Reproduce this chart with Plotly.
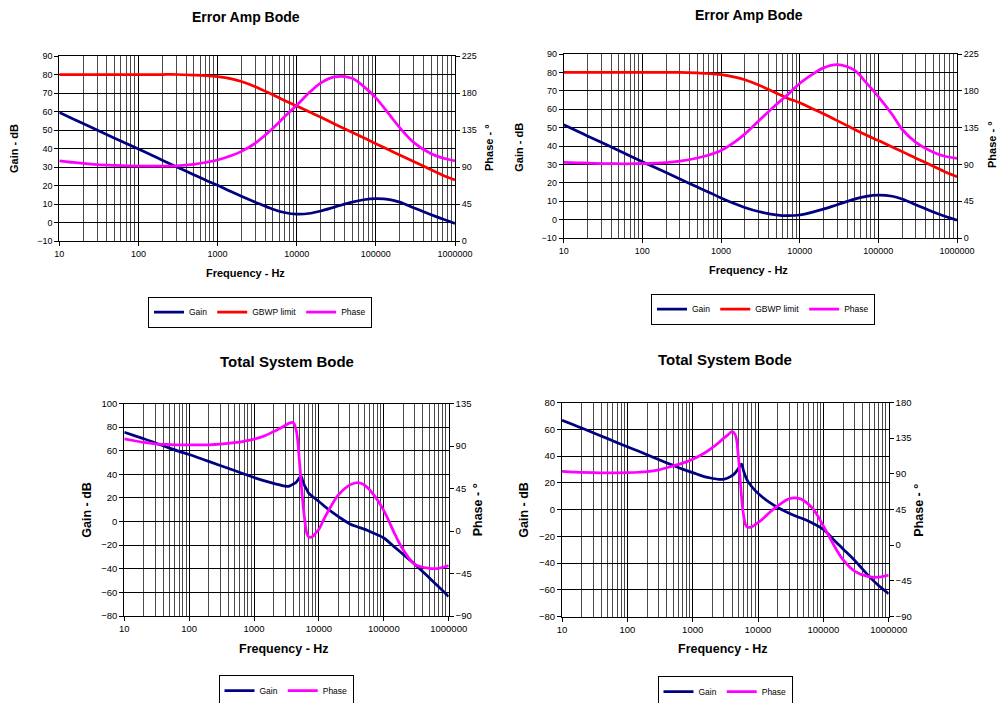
import plotly.graph_objects as go

W, H = 997, 703

# ---------------- DATA ----------------
# Error Amp Bode charts (top row)
freq_ea = [10, 15, 20, 30, 50, 70, 100, 150, 200, 300, 500, 700, 1000, 1500, 2000, 3000,
           5000, 7000, 10000, 15000, 20000, 30000, 50000, 70000, 100000, 150000, 200000,
           300000, 500000, 700000, 1000000]

ea1_gain = [59.5, 56, 53.5, 50, 45.6, 42.7, 39.7, 36.2, 33.7, 30.2, 25.8, 23, 20.1, 16.6, 14.2, 11,
            7.2, 5.4, 4.5, 5, 6.2, 8.3, 11, 12.3, 12.9, 12.4, 11,
            8, 4.2, 1.9, -0.5]
ea1_gbwp = [80, 80, 80, 80, 80, 80, 80, 80, 80, 80, 79.7, 79.4, 78.8, 77.6, 76.2, 73.4,
            69, 66, 63, 59.5, 57, 53.3, 48.8, 45.8, 42.6, 39, 36.5,
            33, 28.5, 25.6, 23]
ea1_phase = [97.5, 95.5, 94.3, 93, 92, 91.5, 91.2, 91, 91, 91.5, 93.3, 95.5, 98.5, 104, 109, 119,
             137, 151, 165, 182, 192, 199.5, 198, 188, 174, 153, 138,
             120, 106, 101, 97.5]

ea2_gain = [51.5, 48, 45.5, 42, 37.5, 34.6, 31.5, 28, 25.6, 22.1, 17.7, 14.9, 11.8, 8.6, 6.6, 4.4,
            2.6, 2.1, 2.5, 4.2, 5.7, 8.1, 11.1, 12.6, 13.3, 12.7, 11.2,
            8.1, 4.1, 1.8, -0.3]
ea2_gbwp = [80, 80, 80, 80, 80, 80, 80, 80, 80, 80, 79.7, 79.4, 78.8, 77.4, 76, 73.2,
            68.8, 66, 63.5, 60, 57.5, 53.8, 49, 46, 43, 39.4, 37,
            33.4, 29, 26, 23.3]
ea2_phase = [92.5, 92, 91.5, 91, 90.8, 90.8, 91, 91.5, 92.2, 94, 97.8, 101.5, 107, 117.5, 127, 143,
             163, 175, 189, 201, 208, 212, 205, 190, 173, 151, 133,
             117, 105, 100, 97.5]

# Total System Bode charts (bottom row)
freq_ts = [10, 15, 20, 30, 50, 70, 100, 150, 200, 300, 500, 700,
           1000, 1500, 2000, 2500, 3000, 3500, 4000, 4500,
           5000, 5300, 5600, 6000, 6500, 7000, 8000, 9000,
           10000, 12000, 15000, 20000, 30000, 40000, 50000, 70000,
           100000, 150000, 200000, 300000, 500000, 700000, 1000000]

ts1_gain = [75.7, 72.4, 70.1, 66.6, 62.2, 59.4, 56.8, 53.4, 51, 47.5, 43.2, 40.3,
            37.3, 34.2, 32.3, 31, 30, 30, 31.7, 33.6,
            37, 38.6, 34.5, 30.5, 27, 23.8, 21.2, 18.9,
            17, 13.3, 9, 4.2, -2, -4.6, -6.4, -9.9,
            -13.9, -22.1, -27.9, -36.1, -47.6, -55.3, -63.6]
ts1_phase = [97.6, 95.3, 93.8, 92.3, 91.5, 91.2, 91.1, 91.1, 91.3, 92, 93.5, 95,
             97.2, 101.1, 105.3, 108.5, 111.7, 114.2, 114.9, 105.3,
             74, 52.3, 32.9, 13.5, -2.4, -6.3, -5.9, -1.7,
             1.8, 12.8, 25.1, 38.2, 48.8, 51.3, 48.8, 38.2,
             21.6, -4.2, -20.1, -35.3, -39.5, -39.5, -36.7]

ts2_gain = [66.7, 63.3, 60.9, 57.4, 53, 50, 46.9, 43.5, 41, 37.4, 33, 30.2,
            27.6, 24.6, 23.3, 22.6, 22.7, 23.8, 25.3, 27.5,
            30.6, 32.5, 34, 29, 24.2, 21, 17.2, 14.3,
            12.2, 8.8, 5.3, 1.5, -2.8, -5.4, -7.1, -10.5,
            -14.8, -23.5, -29.5, -38, -50, -56.8, -63]
ts2_phase = [93, 92.3, 91.8, 91.4, 91.2, 91.2, 91.4, 92, 92.8, 95, 100, 103.5,
             108.5, 116, 123, 129.4, 135, 139.5, 143.3, 139,
             112, 86, 61, 38, 25.1, 22.6, 23, 26,
             28.5, 33.6, 41.2, 49.6, 58.5, 59.3, 56.4, 45.4,
             24.3, -2.3, -18.3, -32.7, -39.8, -40.3, -37.7]

major_vals = [10, 100, 1000, 10000, 100000, 1000000]
major_text = ["10", "100", "1000", "10000", "100000", "1000000"]

# ---------------- STYLE ----------------
NAVY = "#000080"
RED = "#FF0000"
MAG = "#FF00FF"
FONT = "Liberation Sans, Arial, sans-serif"
LW = 2.75

minor_vals = [m * 10 ** d for d in range(1, 6) for m in range(2, 10)]


def px(x):
    return x / W


def py(y):
    return 1 - y / H


panels = [
    dict(box=(59.3, 455, 56, 241), g=(-10, 90, 10), p=(0, 225, 45), tfs=9,
         title="Error Amp Bode", title_xy=(245.7, 17), title_fs=14,
         gain_xy=(14, 149), phase_xy=(489, 148), freq_xy=(245.5, 273), afs=11,
         legend_xy=(260, 296.5),
         series=[("Gain", freq_ea, ea1_gain, NAVY, "g"),
                 ("GBWP limit", freq_ea, ea1_gbwp, RED, "g"),
                 ("Phase", freq_ea, ea1_phase, MAG, "p")]),
    dict(box=(563.7, 957, 54, 238), g=(-10, 90, 10), p=(0, 225, 45), tfs=9,
         title="Error Amp Bode", title_xy=(748.7, 15), title_fs=14,
         gain_xy=(518.7, 147), phase_xy=(992, 145), freq_xy=(748.7, 269.5), afs=11,
         legend_xy=(763, 293.5),
         series=[("Gain", freq_ea, ea2_gain, NAVY, "g"),
                 ("GBWP limit", freq_ea, ea2_gbwp, RED, "g"),
                 ("Phase", freq_ea, ea2_phase, MAG, "p")]),
    dict(box=(124.3, 448.7, 403.5, 616), g=(-80, 100, 20), p=(-90, 135, 45), tfs=9.5,
         title="Total System Bode", title_xy=(286.7, 361), title_fs=15,
         gain_xy=(86.7, 510), phase_xy=(478.3, 510), freq_xy=(284, 648.5), afs=12.5,
         legend_xy=(286, 675),
         series=[("Gain", freq_ts, ts1_gain, NAVY, "g"),
                 ("Phase", freq_ts, ts1_phase, MAG, "p")]),
    dict(box=(562, 888.7, 402.5, 616.5), g=(-80, 80, 20), p=(-90, 180, 45), tfs=9.5,
         title="Total System Bode", title_xy=(725, 359), title_fs=15,
         gain_xy=(523.7, 510), phase_xy=(918.7, 510), freq_xy=(722.7, 648.5), afs=12.5,
         legend_xy=(725, 676),
         series=[("Gain", freq_ts, ts2_gain, NAVY, "g"),
                 ("Phase", freq_ts, ts2_phase, MAG, "p")]),
]

fig = go.Figure()
layout = dict(
    width=W, height=H,
    margin=dict(l=0, r=0, t=0, b=0, autoexpand=False),
    paper_bgcolor="white", plot_bgcolor="white",
    font=dict(family=FONT, color="black"),
    showlegend=True,
)
annotations = []

for i, pn in enumerate(panels, start=1):
    x0, x1, y0, y1 = pn["box"]
    xname = "xaxis" if i == 1 else f"xaxis{i}"
    gi, pi = 2 * i - 1, 2 * i
    gname = "yaxis" if gi == 1 else f"yaxis{gi}"
    pname = f"yaxis{pi}"
    xref = "x" if i == 1 else f"x{i}"
    gref = "y" if gi == 1 else f"y{gi}"
    pref = f"y{pi}"
    lname = "legend" if i == 1 else f"legend{i}"

    layout[xname] = dict(
        domain=[px(x0), px(x1)], anchor=gref, type="log", range=[1, 6],
        tickmode="array", tickvals=major_vals, ticktext=major_text,
        ticks="outside", ticklen=4, tickcolor="black",
        showgrid=True, gridcolor="black", gridwidth=1,
        minor=dict(tickmode="array", tickvals=minor_vals, showgrid=True,
                   gridcolor="#4a4a4a", gridwidth=1, ticks=""),
        showline=True, linecolor="black", linewidth=1, mirror=True,
        tickfont=dict(size=pn["tfs"], family=FONT), zeroline=False,
    )
    glo, ghi, gd = pn["g"]
    layout[gname] = dict(
        domain=[py(y1), py(y0)], anchor=xref, range=[glo, ghi], dtick=gd, tick0=glo,
        ticks="outside", ticklen=4, tickcolor="black",
        showgrid=True, gridcolor="black", gridwidth=1, zeroline=False,
        showline=True, linecolor="black", linewidth=1,
        tickfont=dict(size=pn["tfs"], family=FONT),
    )
    plo, phi, pd_ = pn["p"]
    layout[pname] = dict(
        overlaying=gref, anchor=xref, side="right", range=[plo, phi], dtick=pd_, tick0=plo,
        ticks="outside", ticklen=4, tickcolor="black",
        showgrid=False, zeroline=False,
        showline=True, linecolor="black", linewidth=1,
        tickfont=dict(size=pn["tfs"], family=FONT),
    )
    lx, ly = pn["legend_xy"]
    layout[lname] = dict(
        orientation="h", x=px(lx), y=py(ly), xanchor="center", yanchor="top",
        bordercolor="black", borderwidth=1, bgcolor="white",
        font=dict(size=8.5, family=FONT), itemwidth=30, tracegroupgap=0,
    )

    for name, fx, fy, col, ax in pn["series"]:
        fig.add_trace(go.Scatter(
            x=fx, y=fy, mode="lines", name=name,
            line=dict(color=col, width=LW, shape="spline", smoothing=1.0),
            xaxis=xref, yaxis=(gref if ax == "g" else pref), legend=lname,
            hoverinfo="skip",
        ))

    tx, ty = pn["title_xy"]
    annotations.append(dict(text=f"<b>{pn['title']}</b>", x=px(tx), y=py(ty),
                            xref="paper", yref="paper", xanchor="center", yanchor="middle",
                            showarrow=False, font=dict(size=pn["title_fs"], family=FONT)))
    gx, gy = pn["gain_xy"]
    annotations.append(dict(text="<b>Gain - dB</b>", x=px(gx), y=py(gy), textangle=-90,
                            xref="paper", yref="paper", xanchor="center", yanchor="middle",
                            showarrow=False, font=dict(size=pn["afs"], family=FONT)))
    phx, phy = pn["phase_xy"]
    annotations.append(dict(text="<b>Phase - °</b>", x=px(phx), y=py(phy), textangle=-90,
                            xref="paper", yref="paper", xanchor="center", yanchor="middle",
                            showarrow=False, font=dict(size=pn["afs"], family=FONT)))
    fxp, fyp = pn["freq_xy"]
    annotations.append(dict(text="<b>Frequency - Hz</b>", x=px(fxp), y=py(fyp),
                            xref="paper", yref="paper", xanchor="center", yanchor="middle",
                            showarrow=False, font=dict(size=pn["afs"], family=FONT)))

layout["annotations"] = annotations
fig.update_layout(**layout)
fig.write_html("out.html")
